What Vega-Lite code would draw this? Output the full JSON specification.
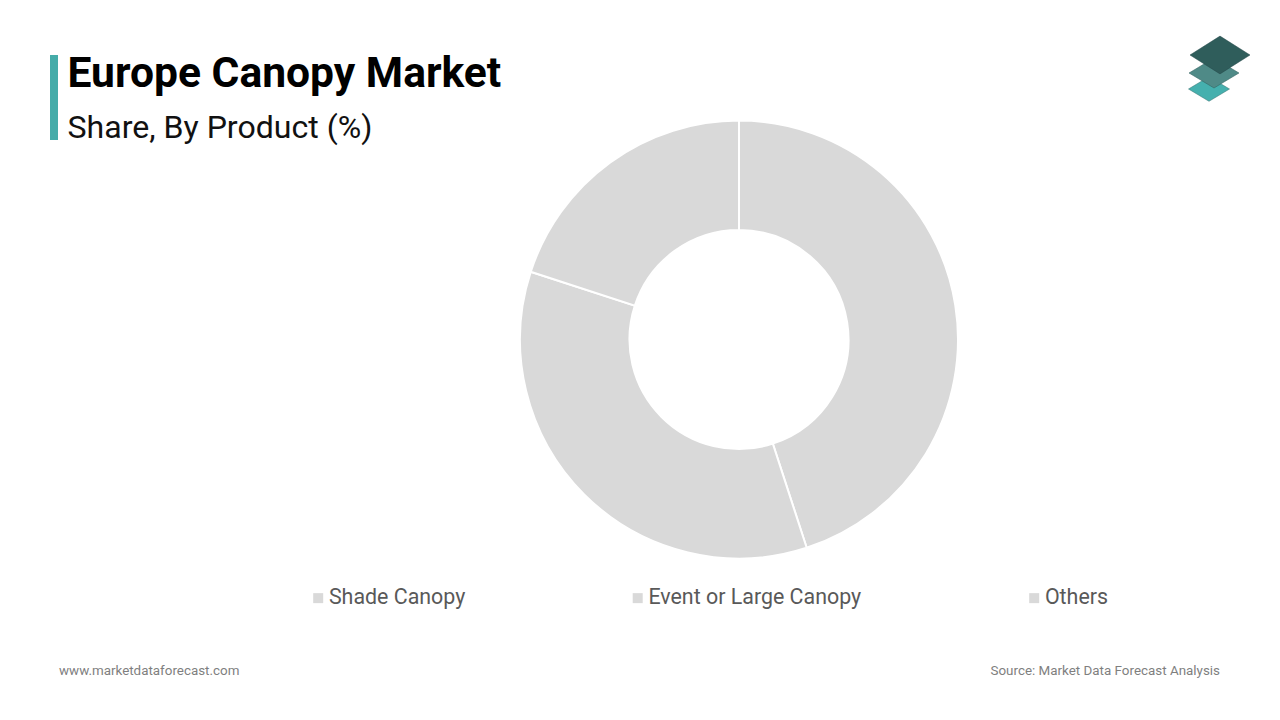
{
  "$schema": "https://vega.github.io/schema/vega-lite/v6.json",
  "width": 436,
  "height": 437,
  "autosize": {"type": "none"},
  "padding": {"left": 521, "top": 121, "right": 323, "bottom": 162},
  "background": "white",
  "title": {
    "text": "Europe Canopy Market",
    "subtitle": "Share, By Product (%)",
    "anchor": "start",
    "frame": "group",
    "dx": -453.5,
    "dy": 112,
    "font": "Roboto",
    "fontSize": 42.6,
    "fontWeight": 700,
    "color": "#000000",
    "subtitleFont": "Roboto",
    "subtitleFontSize": 32.1,
    "subtitleFontWeight": 400,
    "subtitleColor": "#111111",
    "subtitlePadding": 17
  },
  "config": {"view": {"stroke": null}},
  "data": {
    "values": [
      {"product": "Shade Canopy", "share": 45, "rank": 1},
      {"product": "Event or Large Canopy", "share": 35, "rank": 2},
      {"product": "Others", "share": 20, "rank": 3}
    ]
  },
  "layer": [
    {
      "mark": {"type": "arc", "outerRadius": 219, "innerRadius": 109.5, "stroke": "white", "strokeWidth": 2},
      "encoding": {
        "theta": {"field": "share", "type": "quantitative", "stack": true},
        "order": {"field": "rank", "type": "ordinal"},
        "color": {
          "field": "product",
          "type": "nominal",
          "sort": null,
          "scale": {
            "domain": ["Shade Canopy", "Event or Large Canopy", "Others"],
            "range": ["#d9d9d9", "#d9d9d9", "#d9d9d9"]
          },
          "legend": {
            "title": null,
            "orient": "none",
            "direction": "horizontal",
            "legendX": -213.5,
            "legendY": 466,
            "symbolType": "square",
            "symbolSize": 100,
            "symbolStrokeWidth": 0,
            "labelFont": "Roboto",
            "labelFontSize": 21.4,
            "labelColor": "#595959",
            "labelLimit": 400,
            "labelOffset": 0,
            "columnPadding": 161.5
          }
        }
      }
    },
    {
      "data": {"values": [{"part": "accent"}]},
      "mark": {"type": "rect", "color": "#45aca9"},
      "encoding": {
        "x": {"value": -471},
        "x2": {"value": -463},
        "y": {"value": -66},
        "y2": {"value": 19}
      }
    },
    {
      "data": {"values": [{"label": "www.marketdataforecast.com"}]},
      "mark": {"type": "text", "font": "Roboto", "fontSize": 13.4, "color": "#7f7f7f", "align": "left", "baseline": "middle", "x": -462, "y": 550},
      "encoding": {"text": {"field": "label"}}
    },
    {
      "data": {"values": [{"label": "Source: Market Data Forecast Analysis"}]},
      "mark": {"type": "text", "font": "Roboto", "fontSize": 13.4, "color": "#7f7f7f", "align": "right", "baseline": "middle", "x": 699, "y": 550},
      "encoding": {"text": {"field": "label"}}
    },
    {
      "data": {"values": [{"part": "logo base"}]},
      "mark": {"type": "point", "filled": true, "opacity": 1, "color": "#45b0ae", "stroke": "#2f6f6d", "strokeWidth": 0.5, "strokeJoin": "round", "shape": "M -1 0 L 0 -0.6 L 1 0 L 0 0.6 Z", "size": 1681, "x": 688, "y": -32},
      "encoding": {}
    },
    {
      "data": {"values": [{"part": "logo middle"}]},
      "mark": {"type": "point", "filled": true, "opacity": 1, "color": "#4f8a87", "stroke": "#2f5d5b", "strokeWidth": 0.5, "strokeJoin": "round", "shape": "M -1 0 L 0 -0.6 L 1 0 L 0 0.6 Z", "size": 2500, "x": 693, "y": -48},
      "encoding": {}
    },
    {
      "data": {"values": [{"part": "logo top"}]},
      "mark": {"type": "point", "filled": true, "opacity": 1, "color": "#2f5d5b", "stroke": "#26494a", "strokeWidth": 0.5, "strokeJoin": "round", "shape": "M -1 0 L 0 -0.63 L 1 0 L 0 0.63 Z", "size": 3600, "x": 699, "y": -66},
      "encoding": {}
    }
  ]
}
